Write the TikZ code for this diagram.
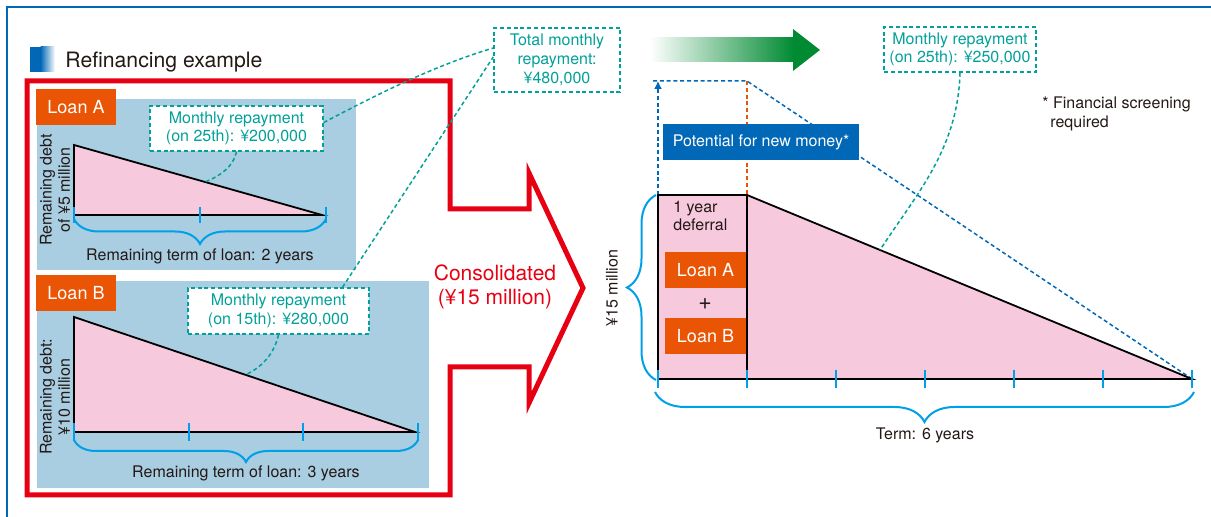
\documentclass[tikz,border=0pt]{standalone}
\usepackage{fontspec}
\setmainfont{TeX Gyre Heros}
\usepackage{tikz}
\usetikzlibrary{arrows.meta}
\usetikzlibrary{decorations.pathreplacing}
\definecolor{frameblue}{HTML}{0068B7}
\definecolor{consred}{HTML}{E60012}
\definecolor{panelblue}{HTML}{A9CDE1}
\definecolor{loanorange}{HTML}{E95504}
\definecolor{debtpink}{HTML}{F6C9DD}
\definecolor{payteal}{HTML}{00A19A}
\definecolor{tickblue}{HTML}{00A0E9}
\definecolor{arrowgreen}{HTML}{008A32}
\definecolor{textgray}{HTML}{231815}
\newcommand{\textsz}{\fontsize{8}{9.2}\selectfont}
\newcommand{\loansz}{\fontsize{9}{10}\selectfont}
\newcommand{\bigsz}{\fontsize{10.5}{11.8}\selectfont}
\tikzstyle{loantag}=[fill=loanorange, text=white, font=\loansz, inner sep=0, minimum width=40pt, minimum height=18pt]
\tikzstyle{callout}=[draw=payteal, fill=white, text=payteal, align=center, inner sep=0,
                     line width=0.75pt, dash pattern=on 2pt off 1.4pt]
\tikzstyle{leader}=[draw=payteal, line width=0.75pt, dash pattern=on 2pt off 1.4pt]
\tikzstyle{debt}=[fill=debtpink, draw=black, line width=0.9pt]
\tikzstyle{tick}=[draw=tickblue, line width=1pt]
\tikzstyle{termbrace}=[draw=tickblue, line width=1pt, decorate]
\tikzstyle{newmoney}=[draw=frameblue, line width=0.75pt, dash pattern=on 2pt off 1.4pt]

\begin{document}
\begin{tikzpicture}[x=0.5pt, y=-0.5pt, every node/.style={font=\textsz, text=textgray}]
    \useasboundingbox (0,0) rectangle (1211,517);
    \draw[frameblue, line width=1pt] (7,540) |- (1230,7);

    % heading
    \fill[frameblue] (30,47) rectangle (41,72);
    \shade[left color=frameblue, right color=white] (40.5,47) rectangle (55,72);
    \node[anchor=base west, inner sep=0, font=\fontsize{10.6}{12}\selectfont] (title) at (65,68) {Refinancing example};

    % the two loans are merged into one
    \draw[consred, line width=2.5pt] (27,81) -- (450,81) -- (450,209) -- (529,209) -- (529,173)
        -- (583,288) -- (529,403) -- (529,367) -- (450,367) -- (450,495) -- (27,495) -- cycle;
    \node[text=consred, font=\bigsz, align=center] (consol) at (495,287) {Consolidated\\(¥15 million)};

    % loan A
    \fill[panelblue] (37,99) rectangle (356,270);
    \node[loantag] (tagA) at (76,107) {Loan A};
    \filldraw[debt] (74,145) -- (74,215) -- (322,215) -- cycle;
    \foreach \x in {74,200,326}
        \draw[tick] (\x,207) -- (\x,223);
    \draw[termbrace, decoration={brace, mirror, amplitude=12.5pt}] (74,219) -- (326,219);
    \node (termA) at (200,256) {Remaining term of loan: 2 years};
    \node[rotate=90, align=center] (debtA) at (55,190) {Remaining debt\\of ¥5 million};
    \node[callout, minimum width=86.5pt, minimum height=22.5pt] (payA) at (236.5,128.5) {Monthly repayment\\(on 25th): ¥200,000};
    \coordinate (hypA) at (205,182);

    % loan B
    \fill[panelblue] (37,281) rectangle (429,488);
    \node[loantag] (tagB) at (76,293) {Loan B};
    \filldraw[debt] (74,317) -- (74,432) -- (415,432) -- cycle;
    \foreach \x in {74,189,303,418}
        \draw[tick] (\x,423) -- (\x,441);
    \draw[termbrace, decoration={brace, mirror, amplitude=11pt}] (74,440) -- (418,440);
    \node (termB) at (246,473) {Remaining term of loan: 3 years};
    \node[rotate=90, align=center] (debtB) at (55,397) {Remaining debt:\\¥10 million};
    \node[callout, minimum width=90.5pt, minimum height=23pt] (payB) at (278.5,311) {Monthly repayment\\(on 15th): ¥280,000};
    \coordinate (hypB) at (245,375);

    \node[callout, minimum width=63pt, minimum height=32pt, font=\fontsize{8}{9.5}\selectfont] (payTotal) at (557,60) {Total monthly\\repayment:\\¥480,000};

    \draw[leader] (payA.south) .. controls +(-3,15) and +(15,-6) .. (hypA);
    \draw[leader] (payB.south) .. controls +(-4,18) and +(18,-8) .. (hypB);
    \draw[leader] ([yshift=3pt]payA.east) .. controls +(57,-30) and +(-57,17) .. ([yshift=6pt]payTotal.west);
    \draw[leader] ([xshift=32pt]payB.north) -- ([yshift=1.5pt]payTotal.west);

    % after refinancing
    \shade[left color=white, right color=arrowgreen] (650,38) rectangle (794,62);
    \fill[arrowgreen] (793,29) -- (820,50) -- (793,71) -- cycle;
    \node[callout, minimum width=76pt, minimum height=22.5pt] (payNew) at (960,49.5) {Monthly repayment\\(on 25th): ¥250,000};
    \node[anchor=west, align=left, inner sep=0, font=\fontsize{8}{9.5}\selectfont] (note) at (1042,114) {* Financial screening\\\hspace*{4pt}required};

    \coordinate (nmBase) at (658,195);
    \coordinate (nmTip) at (658,81);
    \coordinate (nmLeft) at (653,81);
    \coordinate (nmCorner) at (747,81);
    \coordinate (nmFoot) at (747,195);
    \coordinate (termEnd) at (1192,379);
    \draw[newmoney, -{Latex[length=4pt, width=4pt]}] (nmBase) -- (nmTip);
    \draw[newmoney] (nmLeft) -- (nmCorner) -- (termEnd);
    \draw[newmoney, draw=loanorange] (nmCorner) -- (nmFoot);
    \node[fill=frameblue, text=white, inner sep=0, minimum width=98pt, minimum height=18pt] (moneyTag) at (761,142) {Potential for new money*};

    \filldraw[debt] (658,195) -- (658,379) -- (1192,379) -- (747,195) -- cycle;
    \draw[black, line width=0.6pt] (747,195) -- (747,379);
    \foreach \x in {658,747,...,1192}
        \draw[tick] (\x,370) -- (\x,388);
    \draw[termbrace, decoration={brace, mirror, amplitude=15pt}] (655,392) -- (1194,392);
    \draw[termbrace, decoration={brace, amplitude=14.5pt}] (656,380) -- (656,195);
    \node (term) at (925,435) {Term: 6 years};
    \node[rotate=90] (debtNew) at (612,288) {¥15 million};
    \node[anchor=west, align=left, inner sep=0] (deferral) at (673,216) {1 year\\deferral};
    \node[loantag, minimum width=40.5pt] (tagAnew) at (705.5,270) {Loan A};
    \node[font=\fontsize{11.5}{12}\selectfont] (plus) at (705,304) {+};
    \node[loantag, minimum width=40.5pt] (tagBnew) at (705.5,336) {Loan B};
    \coordinate (hypNew) at (880,250);
    \draw[leader] (payNew.south) .. controls +(-2,77) and +(35,-54) .. (hypNew);
\end{tikzpicture}
\end{document}
